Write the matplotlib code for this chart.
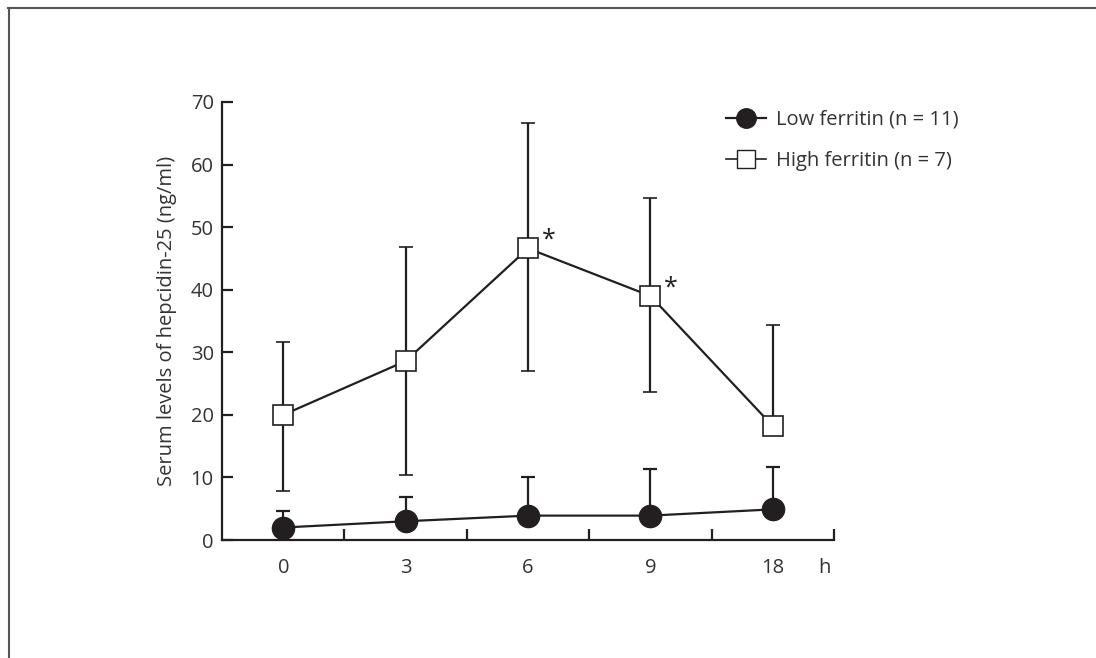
import numpy as np
import matplotlib.pyplot as plt
from matplotlib.lines import Line2D

plt.rcParams['font.family'] = ['Open Sans', 'DejaVu Sans']

hours = ['0', '3', '6', '9', '18']
low_mean = [2.0, 3.0, 3.9, 3.9, 4.9]
low_sd = [2.7, 3.9, 6.2, 7.5, 6.8]
high_mean = [20.0, 28.6, 46.6, 39.0, 18.2]
high_up = [11.6, 18.3, 20.0, 15.7, 16.2]
high_down = [12.2, 18.2, 19.6, 15.3, 0.0]
signif = [2, 3]

fig = plt.figure(figsize=(10.96, 6.58), dpi=100)
ax = fig.add_axes([0.2026, 0.1793, 0.5584, 0.6657])
x = np.arange(len(hours))

ink = '#231f20'
txt = '#333333'
fs = 14.5

ax.errorbar(x, high_mean, yerr=[high_down, high_up], color=ink, lw=1.6,
            capsize=5, capthick=1.6, elinewidth=1.6, marker='s', ms=15,
            mfc='white', mec=ink, mew=1.2, zorder=3)
ax.errorbar(x, low_mean, yerr=[np.zeros(len(x)), low_sd], color=ink, lw=1.6,
            capsize=5, capthick=1.6, elinewidth=1.6, marker='o', ms=16,
            mfc=ink, mec=ink, zorder=3)

for i in signif:
    ax.annotate('*', (x[i], high_mean[i]), xytext=(10, -3), textcoords='offset points',
                fontsize=18, color=ink, ha='left', va='bottom')

ax.set_xlim(-0.5, 4.5)
ax.set_ylim(0, 70)
ax.set_yticks(np.arange(0, 71, 10))
ax.set_xticks(x)
ax.set_xticklabels(hours)
ax.set_xticks(np.arange(0.5, 4.6, 1), minor=True)
ax.tick_params(axis='x', which='major', length=0, pad=13, labelsize=fs, colors=txt)
ax.tick_params(axis='x', which='minor', direction='in', length=8, width=1.6, color=ink)
ax.tick_params(axis='y', direction='in', length=8, width=1.6, color=ink,
               labelsize=fs, labelcolor=txt, pad=6)
for s in ['top', 'right']:
    ax.spines[s].set_visible(False)
for s in ['left', 'bottom']:
    ax.spines[s].set_linewidth(1.6)
    ax.spines[s].set_color(ink)

ax.set_ylabel('Serum levels of hepcidin-25 (ng/ml)', fontsize=fs, color=txt, labelpad=10)
ax.annotate('h', (4.42, 0), xycoords=('data', 'axes fraction'), xytext=(0, -13),
            textcoords='offset points', ha='center', va='top', fontsize=fs, color=txt)

handles = [
    Line2D([], [], color=ink, lw=1.6, marker='o', ms=14, mfc=ink, mec=ink),
    Line2D([], [], color=ink, lw=1.2, marker='s', ms=13, mfc='white', mec=ink, mew=1.0),
]
fig.legend(handles, ['Low ferritin (n = 11)', 'High ferritin (n = 7)'],
           loc='upper left', bbox_to_anchor=(0.646, 0.861), frameon=False,
           fontsize=fs, handlelength=2.0, labelspacing=1.05, handletextpad=0.5,
           labelcolor=txt)

fig.add_artist(Line2D([0.0075, 1.0], [0.9885, 0.9885], color='#555555', lw=1.5,
                      transform=fig.transFigure))
fig.add_artist(Line2D([0.0080, 0.0080], [0.0, 0.9885], color='#555555', lw=1.5,
                      transform=fig.transFigure))

fig.savefig('out.png', dpi=100)
